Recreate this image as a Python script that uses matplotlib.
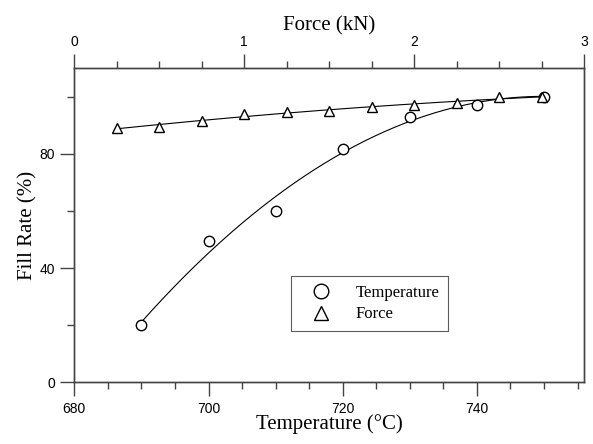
# plot.py
# fill rate vs temperature (bottom axis) and force (top axis)

import numpy as np
import matplotlib
matplotlib.use('Agg')
import matplotlib.pyplot as plt
from matplotlib.ticker import MultipleLocator

temperature = [690, 700, 710, 720, 730, 740, 750]
fill_temp = [20.0, 49.5, 59.9, 81.7, 93.0, 97.3, 100.1]

force = [0.25, 0.5, 0.75, 1.0, 1.25, 1.5, 1.75, 2.0, 2.25, 2.5, 2.75]
fill_force = [89.1, 89.5, 91.6, 94.0, 94.7, 95.1, 96.5, 97.3, 97.9, 99.8, 100.0]

serif = 'Liberation Serif'
sans = 'Liberation Sans'
spine_col = '#444444'

fig = plt.figure(figsize=(5.93, 4.44), dpi=100)
ax = fig.add_axes([0.1253, 0.139, 0.86, 0.7072])
ax2 = ax.twiny()

# fitted curves
t_fit = np.polyfit(temperature, fill_temp, 2)
tt = np.linspace(min(temperature), max(temperature), 200)
ax.plot(tt, np.polyval(t_fit, tt), color='black', lw=0.8)

f_fit = np.polyfit(force, fill_force, 2)
ff = np.linspace(min(force), max(force), 200)
ax2.plot(ff, np.polyval(f_fit, ff), color='black', lw=0.8)

h1, = ax.plot(temperature, fill_temp, linestyle='none', marker='o', ms=7.5,
              mfc='white', mec='black', mew=1.0, label='Temperature')
h2, = ax2.plot(force, fill_force, linestyle='none', marker='^', ms=7.5,
               mfc='white', mec='black', mew=1.0, label='Force')

ax.set_xlim(680, 756)
ax.set_ylim(0, 110)
ax2.set_xlim(0, 3)

ax.xaxis.set_major_locator(MultipleLocator(20))
ax.xaxis.set_minor_locator(MultipleLocator(5))
ax.yaxis.set_major_locator(MultipleLocator(40))
ax.yaxis.set_minor_locator(MultipleLocator(20))
ax2.xaxis.set_major_locator(MultipleLocator(1))
ax2.xaxis.set_minor_locator(MultipleLocator(0.25))

for a in (ax, ax2):
    for s in a.spines.values():
        s.set_color(spine_col)
        s.set_linewidth(1.0)
    a.tick_params(which='major', direction='out', length=10, width=1.0,
                  color=spine_col, labelsize=10, pad=4)
    a.tick_params(which='minor', direction='out', length=5, width=1.0,
                  color=spine_col)
    for lab in a.get_xticklabels() + a.get_yticklabels():
        lab.set_fontfamily(sans)

ax.tick_params(which='both', top=False, right=False)
ax2.tick_params(which='both', bottom=False)

ax.set_xlabel('Temperature (°C)', fontsize=15, family=serif, labelpad=-1)
ax.set_ylabel('Fill Rate (%)', fontsize=15, family=serif, labelpad=1)
ax2.set_xlabel('Force (kN)', fontsize=15, family=serif, labelpad=3)

leg = ax.legend(handles=[h1, h2], loc='lower left', bbox_to_anchor=(0.424, 0.164),
                borderaxespad=0, prop={'family': serif, 'size': 12}, frameon=True,
                fancybox=False, markerscale=1.4, handletextpad=0.8, borderpad=0.5,
                labelspacing=0.35, handlelength=2.6)
leg.get_frame().set_edgecolor('#333333')
leg.get_frame().set_linewidth(0.8)

plt.savefig('out.png', dpi=100)
